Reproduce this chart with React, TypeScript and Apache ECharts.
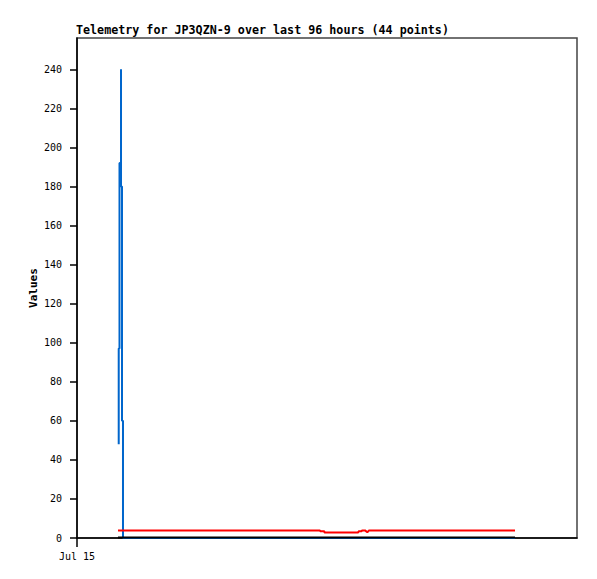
import React, { useEffect, useRef } from "react";
import * as echarts from "echarts";

const titleText = "Telemetry for JP3QZN-9 over last 96 hours (44 points)";
const yAxisName = "Values";
const xTickLabel = "Jul 15";
const yTicks = [0, 20, 40, 60, 80, 100, 120, 140, 160, 180, 200, 220, 240];

// [hours since Jul 15 00:00, value]
const blueSeries: [number, number][] = [
  [8.01, 48],
  [8.01, 97],
  [8.16, 97],
  [8.16, 192],
  [8.45, 192],
  [8.45, 240],
  [8.45, 180],
  [8.64, 180],
  [8.64, 60],
  [8.83, 60],
  [8.83, 0],
  [84.1, 0],
];

const redSeries: [number, number][] = [
  [7.87, 3.9],
  [46.66, 3.9],
  [46.7, 3.5],
  [47.48, 3.5],
  [47.5, 2.8],
  [54.0, 2.8],
  [54.05, 3.4],
  [54.67, 3.4],
  [54.7, 3.9],
  [55.3, 3.9],
  [55.74, 2.9],
  [56.07, 3.9],
  [84.1, 3.9],
];

const blackSeries: [number, number][] = [
  [7.87, 0.3],
  [84.1, 0.3],
];

const FONT = "DejaVu Sans Mono";

export default function App() {
  const ref = useRef<HTMLDivElement>(null);
  useEffect(() => {
    if (!ref.current) return;
    const chart = echarts.init(ref.current, null, { renderer: "svg" });
    chart.setOption({
      animation: false,
      backgroundColor: "#fff",
      title: {
        text: titleText,
        left: 76,
        top: 24,
        padding: 0,
        textStyle: { fontFamily: FONT, fontSize: 11.7, fontWeight: "bold", color: "#000" },
      },
      grid: {
        left: 77,
        top: 38,
        width: 500,
        height: 500,
        show: true,
        borderColor: "#444",
        borderWidth: 1.5,
        backgroundColor: "#fff",
      },
      xAxis: {
        type: "value",
        min: 0,
        max: 96,
        splitLine: { show: false },
        axisLine: { show: true, onZero: false, lineStyle: { color: "#000", width: 1.5 } },
        axisTick: { show: true, length: 9, customValues: [0], lineStyle: { color: "#000", width: 1.5 } },
        axisLabel: {
          customValues: [0],
          formatter: () => xTickLabel,
          fontFamily: FONT,
          fontSize: 10,
          color: "#000",
          margin: 13,
        },
      },
      yAxis: {
        type: "value",
        min: 0,
        max: 256,
        name: yAxisName,
        nameLocation: "middle",
        nameRotate: 90,
        nameGap: 38,
        nameMoveOverlap: false,
        nameTextStyle: { fontFamily: FONT, fontSize: 11, fontWeight: "bold", color: "#000" },
        splitLine: { show: false },
        axisLine: { show: true, lineStyle: { color: "#000", width: 1.5 } },
        axisTick: { show: true, length: 7, customValues: yTicks, lineStyle: { color: "#000", width: 1.5 } },
        axisLabel: {
          customValues: yTicks,
          fontFamily: FONT,
          fontSize: 10,
          color: "#000",
          margin: 15,
        },
      },
      series: [
        {
          type: "line",
          data: blueSeries,
          showSymbol: false,
          lineStyle: { color: "#0066cc", width: 2 },
          z: 2,
        },
        {
          type: "line",
          data: redSeries,
          showSymbol: false,
          lineStyle: { color: "#ff0000", width: 2 },
          z: 3,
        },
        {
          type: "line",
          data: blackSeries,
          showSymbol: false,
          lineStyle: { color: "#000", width: 2 },
          z: 4,
        },
      ],
    });
    return () => chart.dispose();
  }, []);
  return (
    <div
      ref={ref}
      style={{ position: "fixed", left: 0, top: 0, width: 597, height: 579 }}
    />
  );
}
